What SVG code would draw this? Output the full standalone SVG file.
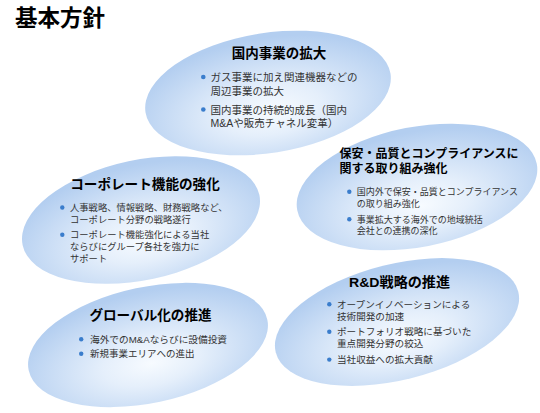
<svg xmlns="http://www.w3.org/2000/svg" width="540" height="413" viewBox="0 0 540 413">
<defs>
<radialGradient id="g" cx="50%" cy="62%" r="58%" fx="50%" fy="66%">
<stop offset="0" stop-color="#f7fbff"/>
<stop offset="0.35" stop-color="#e5effb"/>
<stop offset="1" stop-color="#b3cef0"/>
</radialGradient>
<style>
.bg{fill:url(#g);}
.t{font-family:"Liberation Sans","Noto Sans CJK JP",sans-serif;font-weight:bold;fill:#000;}
.b{font-family:"Liberation Sans","Noto Sans CJK JP",sans-serif;fill:#333;}
.d{fill:#3a7dcc;}
</style>
</defs>
<rect width="540" height="413" fill="#fff"/>
<text class="t" x="15" y="26" font-size="22.5">基本方針</text>

<g id="domestic">
<ellipse class="bg" cx="268" cy="93" rx="124" ry="60" transform="rotate(-9 268 93)"/>
<text class="t" x="279" y="57.6" font-size="13.5" text-anchor="middle">国内事業の拡大</text>
<circle class="d" cx="203.3" cy="77" r="2.3"/>
<text class="b" x="210.5" y="81" font-size="10.5">ガス事業に加え関連機器などの</text>
<text class="b" x="210.5" y="95" font-size="10.5">周辺事業の拡大</text>
<circle class="d" cx="203.3" cy="109.5" r="2.3"/>
<text class="b" x="210.5" y="113.5" font-size="10.5">国内事業の持続的成長（国内</text>
<text class="b" x="210.5" y="126.5" font-size="10.5">M&amp;Aや販売チャネル変革）</text>
</g>

<g id="compliance">
<ellipse class="bg" cx="417" cy="187" rx="122" ry="60" transform="rotate(-11 417 187)"/>
<text class="t" x="339.5" y="157.9" font-size="12">保安・品質とコンプライアンスに</text>
<text class="t" x="339.5" y="172.9" font-size="12">関する取り組み強化</text>
<circle class="d" cx="349.3" cy="191.7" r="2.2"/>
<text class="b" x="356.7" y="195.1" font-size="9">国内外で保安・品質とコンプライアンス</text>
<text class="b" x="356.7" y="206.7" font-size="9">の取り組み強化</text>
<circle class="d" cx="349.3" cy="219.3" r="2.2"/>
<text class="b" x="356.7" y="222.7" font-size="9">事業拡大する海外での地域統括</text>
<text class="b" x="356.7" y="234.1" font-size="9">会社との連携の深化</text>
</g>

<g id="corporate">
<ellipse class="bg" cx="141" cy="220" rx="121" ry="60" transform="rotate(-12 141 220)"/>
<text class="t" x="145" y="188.5" font-size="13.6" text-anchor="middle">コーポレート機能の強化</text>
<circle class="d" cx="62.3" cy="207.5" r="2.2"/>
<text class="b" x="70" y="211" font-size="9.3">人事戦略、情報戦略、財務戦略など、</text>
<text class="b" x="70" y="222.8" font-size="9.3">コーポレート分野の戦略遂行</text>
<circle class="d" cx="62.3" cy="234.7" r="2.2"/>
<text class="b" x="70" y="238.2" font-size="9.3">コーポレート機能強化による当社</text>
<text class="b" x="70" y="249.5" font-size="9.3">ならびにグループ各社を強力に</text>
<text class="b" x="70" y="261.5" font-size="9.3">サポート</text>
</g>

<g id="global">
<ellipse class="bg" cx="148" cy="345" rx="122" ry="58" transform="rotate(-12 148 345)"/>
<text class="t" x="150.5" y="320.2" font-size="13.6" text-anchor="middle">グローバル化の推進</text>
<circle class="d" cx="81.2" cy="339.3" r="2.2"/>
<text class="b" x="90" y="342.9" font-size="9.5" textLength="137" lengthAdjust="spacingAndGlyphs">海外でのM&amp;Aならびに設備投資</text>
<circle class="d" cx="81.2" cy="353.8" r="2.2"/>
<text class="b" x="90" y="357.4" font-size="9.5">新規事業エリアへの進出</text>
</g>

<g id="rnd">
<ellipse class="bg" cx="397" cy="322" rx="125" ry="58" transform="rotate(-14 397 322)"/>
<text class="t" x="349" y="286.8" font-size="13.5" textLength="101" lengthAdjust="spacingAndGlyphs">R&amp;D戦略の推進</text>
<circle class="d" cx="329.3" cy="304.3" r="2.2"/>
<text class="b" x="337" y="307.9" font-size="9.6">オープンイノベーションによる</text>
<text class="b" x="337" y="319.9" font-size="9.6">技術開発の加速</text>
<circle class="d" cx="329.3" cy="331.7" r="2.2"/>
<text class="b" x="337" y="335.3" font-size="9.6">ポートフォリオ戦略に基づいた</text>
<text class="b" x="337" y="347.4" font-size="9.6">重点開発分野の絞込</text>
<circle class="d" cx="329.3" cy="359.6" r="2.2"/>
<text class="b" x="337" y="363.2" font-size="9.6">当社収益への拡大貢献</text>
</g>
</svg>
